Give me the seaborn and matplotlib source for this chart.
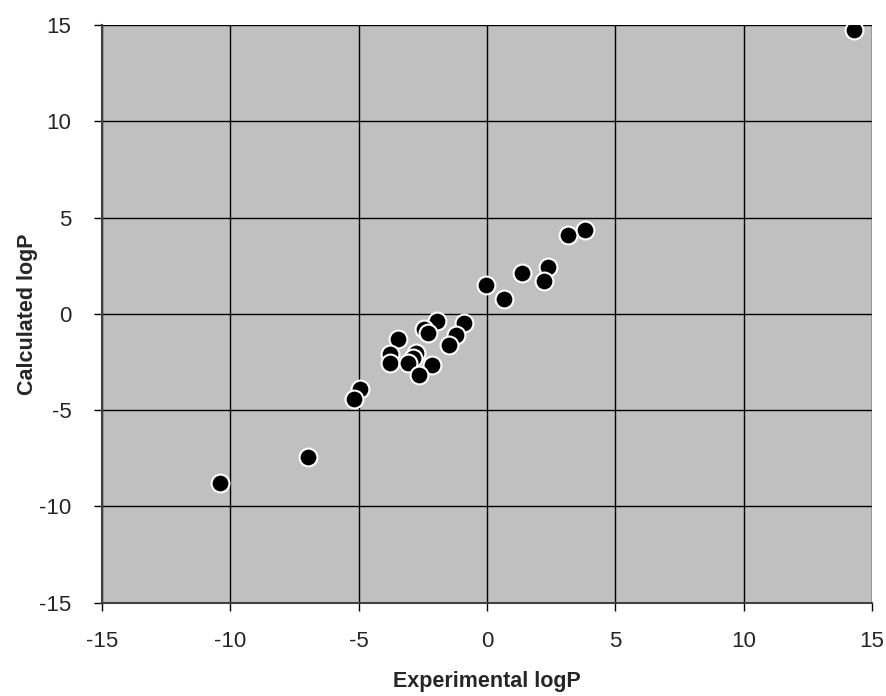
import matplotlib
matplotlib.use('Agg')
import matplotlib.pyplot as plt
import seaborn as sns
import pandas as pd

experimental = [14.3, 3.82, 3.17, 2.36, 2.21, 1.35, -0.04, 0.65, -0.91, -1.21, -1.47,
                -1.94, -2.44, -2.29, -3.48, -3.78, -3.78, -2.77, -2.90, -3.07, -2.15,
                -2.64, -4.95, -5.18, -6.98, -10.41]
calculated = [14.75, 4.36, 4.10, 2.42, 1.70, 2.11, 1.49, 0.76, -0.48, -1.11, -1.62,
              -0.36, -0.78, -0.97, -1.28, -2.08, -2.53, -2.01, -2.30, -2.56, -2.65,
              -3.17, -3.89, -4.43, -7.42, -8.77]
ticks = [-15, -10, -5, 0, 5, 10, 15]

df = pd.DataFrame({'Experimental logP': experimental, 'Calculated logP': calculated})

sns.set_style('white')
plt.rcParams['font.family'] = ['Liberation Sans', 'DejaVu Sans']
plt.rcParams['axes.unicode_minus'] = False

fig = plt.figure(figsize=(8.87, 6.96), dpi=100)
ax = fig.add_axes([0.115, 0.134, 0.868, 0.830])
ax.set_facecolor('#C0C0C0')

sns.scatterplot(data=df, x='Experimental logP', y='Calculated logP', ax=ax,
                color='black', edgecolor='white', linewidth=1.5, s=165, zorder=3)

ax.set_xlim(-15, 15)
ax.set_ylim(-15, 15)
ax.set_xticks(ticks)
ax.set_yticks(ticks)
ax.grid(True, color='black', linewidth=1)
ax.set_axisbelow(True)
for side in ['top', 'right']:
    ax.spines[side].set_visible(False)
for side in ['left', 'bottom']:
    ax.spines[side].set_color('#404040')
    ax.spines[side].set_linewidth(1.5)
ax.tick_params(axis='both', direction='out', length=6, width=1, color='black',
               labelsize=16, bottom=True, left=True)
ax.tick_params(axis='x', pad=14)
ax.tick_params(axis='y', pad=16)
ax.set_xlabel('Experimental logP', fontsize=15.5, fontweight='bold', labelpad=14)
ax.set_ylabel('Calculated logP', fontsize=15.5, fontweight='bold', labelpad=1)

plt.savefig('out.png', dpi=100)
